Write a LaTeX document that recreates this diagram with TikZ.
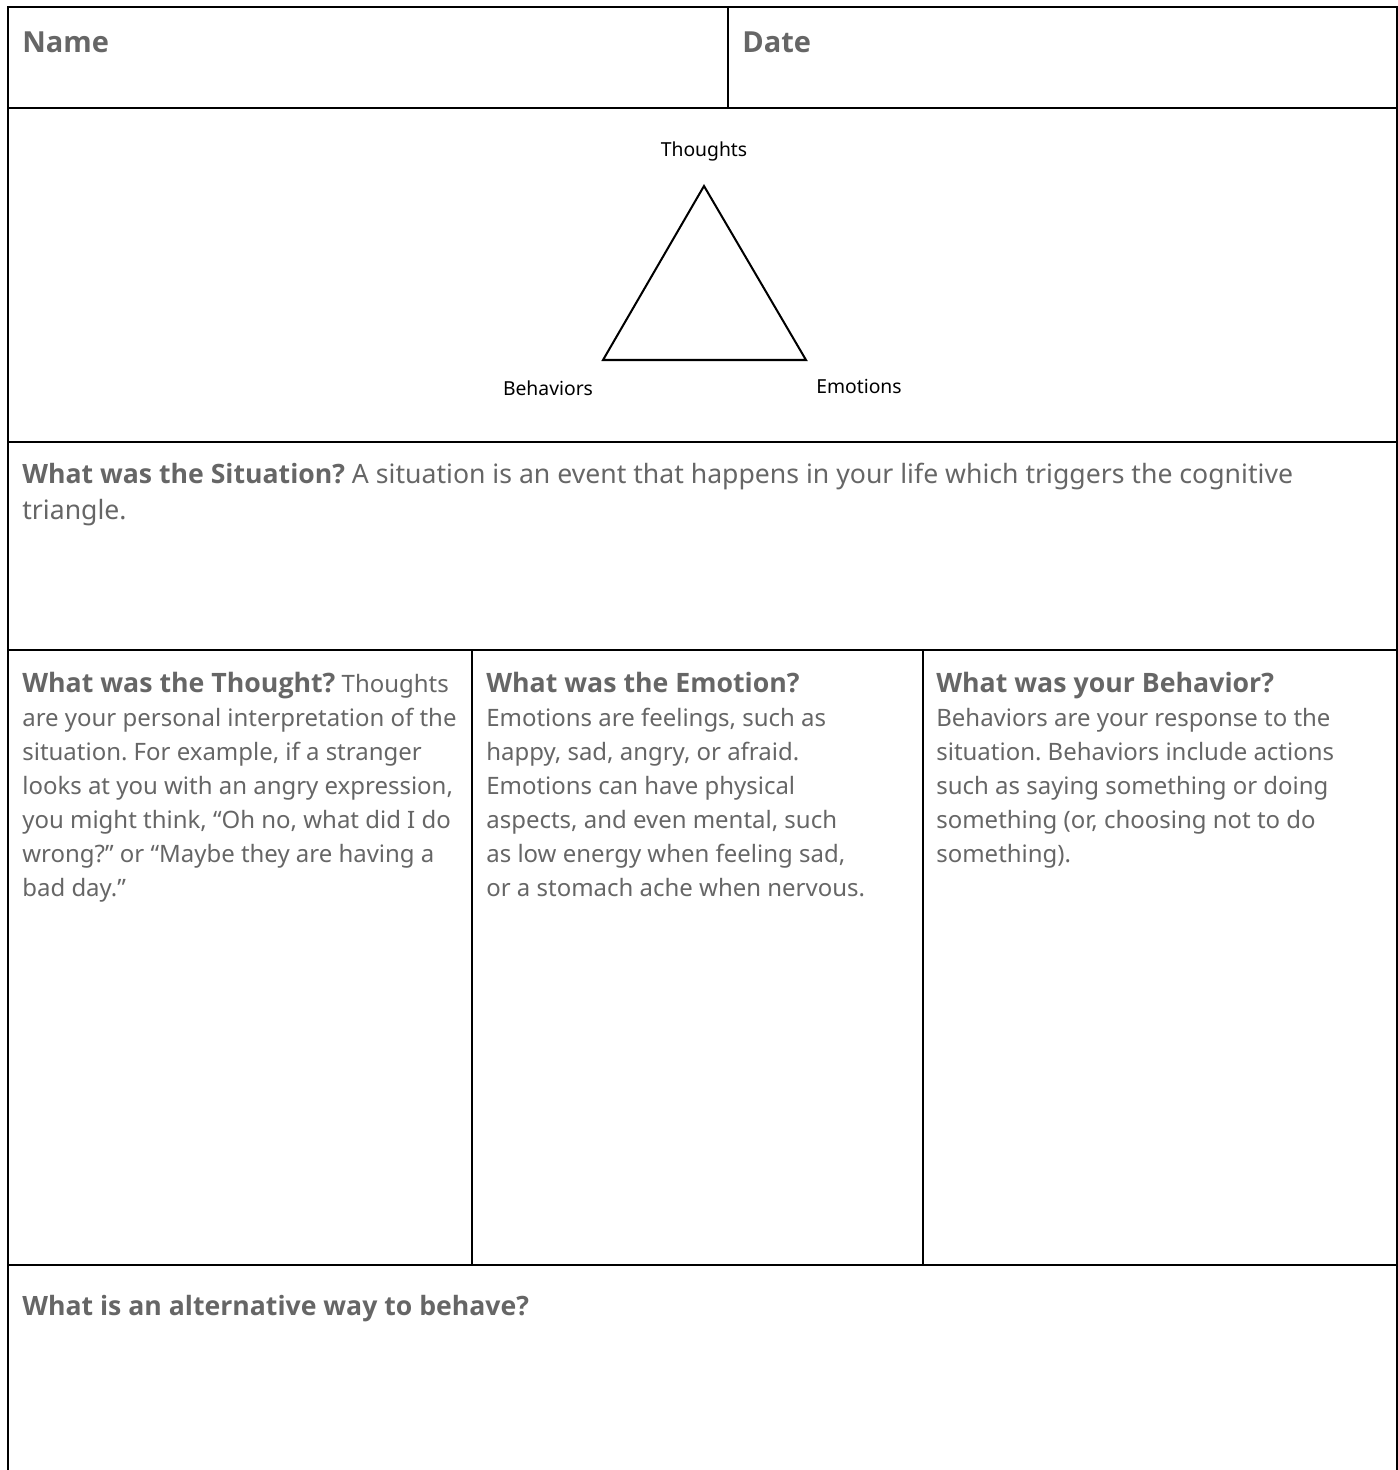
\documentclass[tikz,border=0pt]{standalone}
\usepackage{fontspec}
\setmainfont{Noto Sans}
\newfontfamily\headface{Open Sans}
\frenchspacing
\definecolor{inkgray}{HTML}{666666}
\newcommand{\headfont}{\fontsize{15.2pt}{19.35pt}\selectfont\headface\bfseries}
\newcommand{\widehead}{\fontsize{15.15pt}{20.5pt}\selectfont\headface\bfseries}
\tikzset{
  rule/.style={line width=1.15pt, black},
  cell/.style={inner sep=0pt, anchor=north west, align=left, text=inkgray,
    font=\fontsize{13.64pt}{19.35pt}\selectfont},
  widecell/.style={cell, font=\fontsize{15.15pt}{20.5pt}\selectfont},
  fieldcell/.style={cell, font=\fontsize{16.5pt}{20pt}\selectfont\headface\bfseries},
  corner/.style={inner sep=0pt, anchor=base, text=black, font=\fontsize{11pt}{13pt}\selectfont}
}
\begin{document}
\begin{tikzpicture}[x=0.02cm, y=-0.02cm]
  \useasboundingbox (0,0) rectangle (1398,1470);
  % Outer frame, open at the bottom
  \draw[rule] (8,1470) -- (8,7) -- (1397,7) -- (1397,1470);
  % Row separators
  \draw[rule] (8,108) -- (1397,108);
  \draw[rule] (8,442) -- (1397,442);
  \draw[rule] (8,650) -- (1397,650);
  \draw[rule] (8,1265) -- (1397,1265);
  % Column separators
  \draw[rule] (728,7) -- (728,108);
  \draw[rule] (472,650) -- (472,1265);
  \draw[rule] (923,650) -- (923,1265);
  % Header fields
  \node[fieldcell] (name) at (22,31) {Name};
  \node[fieldcell] (date) at (742,31) {Date};
  % Cognitive triangle
  \coordinate (top) at (704,186);
  \coordinate (left) at (603,360);
  \coordinate (right) at (806,360);
  \draw[line width=1.15pt, line join=miter] (top) -- (right) -- (left) -- cycle;
  \node[corner] (thoughts) at (704,156) {Thoughts};
  \node[corner] (behaviors) at (548,395) {Behaviors};
  \node[corner] (emotions) at (859,393) {Emotions};
  % Situation
  \node[widecell] (situation) at (22,463) {{\widehead What was the Situation?} A situation is an event that happens in your life which triggers the cognitive\\triangle.};
  % Thought, emotion, behavior
  \node[cell] (thought) at (22,672) {{\headfont What was the Thought?} Thoughts\\are your personal interpretation of the\\situation. For example, if a stranger\\looks at you with an angry expression,\\you might think, “Oh no, what did I do\\wrong?” or “Maybe they are having a\\bad day.”};
  \node[cell] (emotion) at (486,672) {{\headfont What was the Emotion?}\\Emotions are feelings, such as\\happy, sad, angry, or afraid.\\Emotions can have physical\\aspects, and even mental, such\\as low energy when feeling sad,\\or a stomach ache when nervous.};
  \node[cell] (behavior) at (936,672) {{\headfont What was your Behavior?}\\Behaviors are your response to the\\situation. Behaviors include actions\\such as saying something or doing\\something (or, choosing not to do\\something).};
  % Alternative
  \node[widecell] (alternative) at (22,1295) {{\widehead What is an alternative way to behave?}};
\end{tikzpicture}
\end{document}
